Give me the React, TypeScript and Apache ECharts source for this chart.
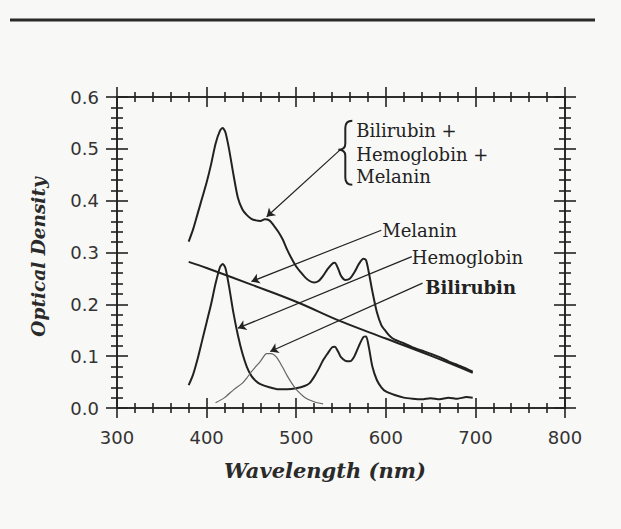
import React, { useEffect, useRef } from "react";
import * as echarts from "echarts";

// ---- Data ----
const combinedWl = [380, 385, 390, 395, 400, 405, 410, 415, 418, 421, 425, 430, 435, 440, 445, 450, 455, 460, 465, 470, 475, 480, 485, 490, 495, 500, 505, 510, 515, 520, 525, 530, 535, 540, 543, 547, 550, 555, 560, 565, 570, 575, 578, 581, 585, 590, 595, 600, 605, 610, 620, 630, 640, 650, 660, 670, 680, 690, 697];
const combinedOD = [0.321, 0.345, 0.375, 0.405, 0.435, 0.47, 0.51, 0.535, 0.54, 0.532, 0.5, 0.45, 0.405, 0.383, 0.372, 0.365, 0.362, 0.361, 0.364, 0.362, 0.352, 0.34, 0.325, 0.305, 0.288, 0.273, 0.262, 0.252, 0.245, 0.242, 0.245, 0.255, 0.268, 0.278, 0.28, 0.268, 0.255, 0.247, 0.25, 0.262, 0.278, 0.288, 0.285, 0.262, 0.225, 0.185, 0.16, 0.148, 0.138, 0.132, 0.125, 0.117, 0.111, 0.105, 0.098, 0.09, 0.083, 0.076, 0.07];

const melaninWl = [380, 400, 450, 500, 550, 600, 650, 697];
const melaninOD = [0.282, 0.27, 0.238, 0.205, 0.167, 0.134, 0.101, 0.068];

const hemoglobinWl = [380, 385, 390, 395, 400, 405, 410, 415, 418, 421, 425, 430, 435, 440, 445, 450, 455, 460, 470, 480, 490, 500, 510, 515, 520, 525, 530, 535, 540, 543, 547, 550, 555, 560, 565, 570, 575, 578, 581, 585, 590, 595, 600, 610, 620, 630, 640, 650, 660, 670, 680, 690, 697];
const hemoglobinOD = [0.044, 0.065, 0.095, 0.13, 0.165, 0.2, 0.24, 0.272, 0.278, 0.27, 0.235, 0.183, 0.14, 0.105, 0.079, 0.062, 0.052, 0.046, 0.04, 0.036, 0.036, 0.038, 0.043, 0.048, 0.06, 0.075, 0.092, 0.105, 0.117, 0.118, 0.108, 0.098, 0.091, 0.09, 0.1, 0.12, 0.137, 0.138, 0.118, 0.08, 0.054, 0.04, 0.032, 0.025, 0.02, 0.018, 0.017, 0.019, 0.017, 0.02, 0.018, 0.021, 0.02];

const bilirubinWl = [410, 420, 430, 440, 445, 450, 460, 467, 472, 478, 485, 490, 495, 500, 510, 520, 530];
const bilirubinOD = [0.01, 0.02, 0.035, 0.048, 0.058, 0.07, 0.09, 0.105, 0.105, 0.098, 0.078, 0.062, 0.048, 0.036, 0.02, 0.012, 0.008];

const xTicks = { min: 300, max: 800, interval: 100 };
const yTicks = { min: 0, max: 0.6, interval: 0.1 };

// annotation anchors in data coordinates: [from, to]
const arrows: [number, number][][] = [
  [[549, 0.498], [467, 0.369]],
  [[595, 0.343], [450, 0.244]],
  [[629, 0.292], [435, 0.154]],
  [[641, 0.241], [471, 0.109]],
];
const labels: { text: string; at: [number, number]; bold?: boolean }[] = [
  { text: "Bilirubin +", at: [567, 0.536] },
  { text: "Hemoglobin +", at: [567, 0.49] },
  { text: "Melanin", at: [567, 0.446] },
  { text: "Melanin", at: [596, 0.343] },
  { text: "Hemoglobin", at: [629, 0.291] },
  { text: "Bilirubin", at: [644, 0.232], bold: true },
];
const braceAt: [number, number] = [547, 0.554];

const INK = "#222";

function pairs(xs: number[], ys: number[]) {
  return xs.map((x, i) => [x, ys[i]]);
}

export default function App() {
  const ref = useRef<HTMLDivElement>(null);
  useEffect(() => {
    if (!ref.current) return;
    echarts.graphic.registerShape(
      "brace",
      echarts.graphic.extendPath(
        "M 14 0 C 9 0 7 2 7 7 L 7 23 C 7 27 4 29 0 29 C 4 29 7 31 7 35 L 7 57 C 7 62 9 64 14 64",
        {}
      )
    );
    const chart = echarts.init(ref.current, null, { renderer: "svg" });
    const line = { color: INK, width: 1.6 };
    const mkX = (position: string, inside: boolean, labels: boolean) => ({
      type: "value",
      ...xTicks,
      position,
      axisLine: { show: true, onZero: false, lineStyle: line },
      axisTick: { show: true, inside, length: 10, lineStyle: line },
      minorTick: { show: true, splitNumber: 5, length: 5, lineStyle: line },
      axisLabel: {
        show: labels,
        margin: 20,
        color: "#333",
        fontFamily: "DejaVu Sans",
        fontSize: 18,
      },
      splitLine: { show: false },
      minorSplitLine: { show: false },
    });
    const mkY = (position: string, inside: boolean, labels: boolean) => ({
      type: "value",
      ...yTicks,
      position,
      axisLine: { show: true, onZero: false, lineStyle: line },
      axisTick: { show: true, inside, length: 11, lineStyle: line },
      minorTick: { show: true, splitNumber: 5, length: 6, lineStyle: line },
      axisLabel: {
        show: labels,
        margin: 18,
        color: "#333",
        fontFamily: "DejaVu Sans",
        fontSize: 18,
        formatter: (v: number) => v.toFixed(1),
      },
      splitLine: { show: false },
      minorSplitLine: { show: false },
    });
    const curve = (name: string, xs: number[], ys: number[], color: string, width: number, extra: any = {}) => ({
      name,
      type: "line",
      xAxisIndex: 0,
      yAxisIndex: 0,
      data: pairs(xs, ys),
      symbol: "none",
      smooth: 0.25,
      lineStyle: { color, width },
      silent: true,
      ...extra,
    });
    chart.setOption({
      animation: false,
      backgroundColor: "#f8f8f6",
      grid: { left: 117, right: 56, top: 97, bottom: 121, containLabel: false },
      xAxis: [mkX("bottom", false, true), mkX("bottom", true, false), mkX("top", true, false), mkX("top", false, false)],
      yAxis: [mkY("left", false, true), mkY("left", true, false), mkY("right", true, false), mkY("right", false, false)],
      series: [
        curve("Bilirubin + Hemoglobin + Melanin", combinedWl, combinedOD, INK, 2),
        curve("Melanin", melaninWl, melaninOD, INK, 2, { smooth: 0.4 }),
        curve("Hemoglobin", hemoglobinWl, hemoglobinOD, INK, 2),
        curve("Bilirubin", bilirubinWl, bilirubinOD, "#666", 1.2, {
          markLine: {
            silent: true,
            symbol: ["none", "arrow"],
            symbolSize: 8,
            label: { show: false },
            lineStyle: { color: INK, width: 1.2, type: "solid" },
            data: arrows.map(([a, b]) => [{ coord: a }, { coord: b }]),
          },
        }),
      ],
    });
    const px = (p: [number, number]) => chart.convertToPixel({ gridIndex: 0 }, p) as number[];
    const graphics: any[] = [
      {
        type: "line",
        shape: { x1: 10, y1: 20, x2: 595, y2: 20 },
        style: { stroke: "#2a2a2a", lineWidth: 3 },
      },
      {
        type: "text",
        x: 325,
        y: 470,
        style: {
          text: "Wavelength (nm)",
          font: "italic bold 21px 'DejaVu Serif'",
          fill: "#2a2a2a",
          align: "center",
          verticalAlign: "middle",
        },
      },
      {
        type: "text",
        x: 38,
        y: 257,
        rotation: Math.PI / 2,
        style: {
          text: "Optical Density",
          font: "italic bold 18.5px 'DejaVu Serif'",
          fill: "#2a2a2a",
          align: "center",
          verticalAlign: "middle",
        },
      },
    ];
    const b = px(braceAt);
    graphics.push({
      type: "brace",
      x: b[0],
      y: b[1],
      style: { fill: "none", stroke: INK, lineWidth: 2 },
    });
    labels.forEach((l) => {
      const p = px(l.at);
      graphics.push({
        type: "text",
        x: p[0],
        y: p[1],
        style: {
          text: l.text,
          font: `${l.bold ? "bold " : ""}18px 'DejaVu Serif'`,
          fill: INK,
          align: "left",
          verticalAlign: "middle",
        },
      });
    });
    chart.setOption({ graphic: graphics });
    return () => chart.dispose();
  }, []);
  return (
    <div
      ref={ref}
      style={{ position: "fixed", left: 0, top: 0, width: 621, height: 529 }}
    />
  );
}
